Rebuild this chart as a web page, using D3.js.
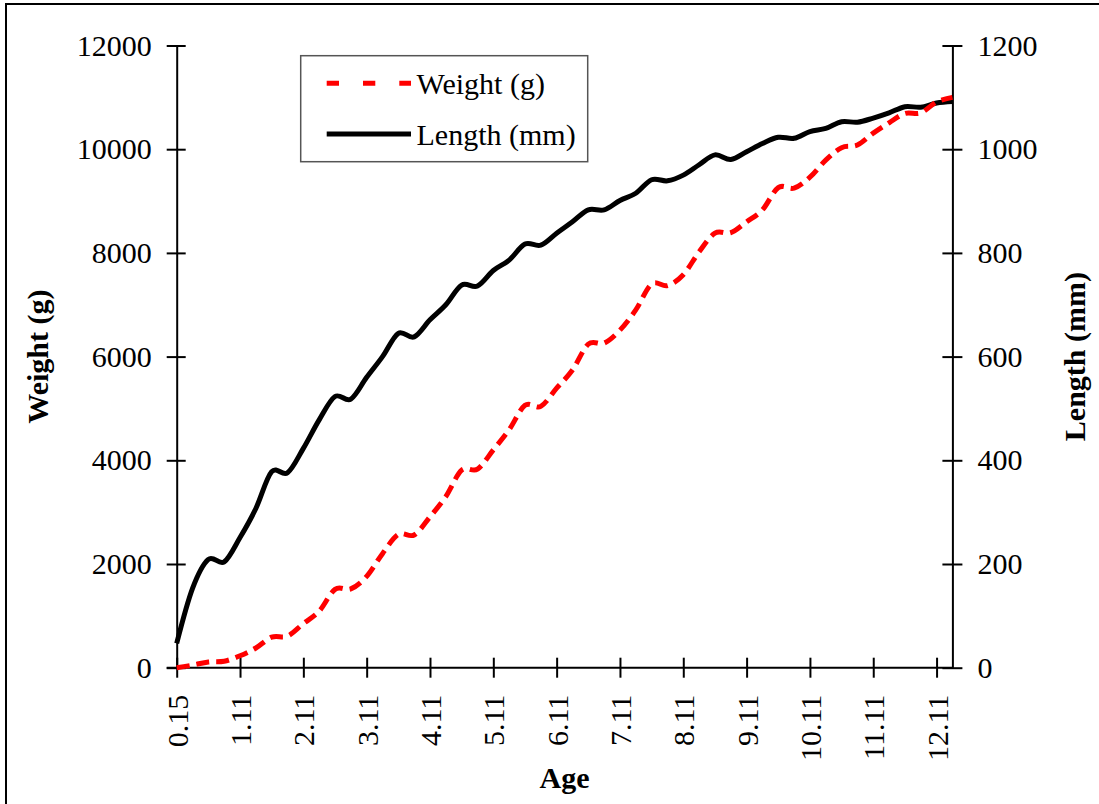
<!DOCTYPE html>
<html>
<head>
<meta charset="utf-8">
<script src="https://cdn.jsdelivr.net/npm/d3@7"></script>
<style>
  html, body { margin: 0; padding: 0; background: #fff; }
  svg { display: block; }
  svg text { font-family: "Liberation Serif", "Times New Roman", Times, serif; }
</style>
</head>
<body>
<svg id="chart" width="1099" height="804"></svg>
<script>
// Age categories (quarterly sampling); every fourth one is labelled
const ages = [
  "0.15","0.36","0.61","0.86","1.11","1.36","1.61","1.86","2.11","2.36",
  "2.61","2.86","3.11","3.36","3.61","3.86","4.11","4.36","4.61","4.86",
  "5.11","5.36","5.61","5.86","6.11","6.36","6.61","6.86","7.11","7.36",
  "7.61","7.86","8.11","8.36","8.61","8.86","9.11","9.36","9.61","9.86",
  "10.11","10.36","10.61","10.86","11.11","11.36","11.61","11.86","12.11","12.36"
];

// Weight in grams
const weight = [
  0, 50, 110, 125, 230, 380, 590, 610, 850, 1090,
  1510, 1520, 1760, 2200, 2570, 2560, 2910, 3300, 3810, 3830,
  4200, 4590, 5060, 5040, 5390, 5740, 6240, 6260, 6510, 6900,
  7400, 7370, 7580, 8020, 8380, 8390, 8600, 8830, 9260, 9250,
  9460, 9790, 10030, 10080, 10310, 10510, 10690, 10700, 10910, 11000
];

// Length in millimetres
const lengthMm = [
  47, 153, 209, 204, 251, 307, 378, 376, 423, 478,
  523, 518, 560, 600, 645, 638, 671, 700, 738, 736,
  766, 786, 817, 815, 838, 860, 883, 883, 901, 915,
  941, 939, 950, 970, 989, 980, 995, 1011, 1023, 1021,
  1034, 1040, 1053, 1052, 1060, 1070, 1082, 1081, 1089, 1092
];

const weightTicks = [0, 2000, 4000, 6000, 8000, 10000, 12000];
const lengthTicks = [0, 200, 400, 600, 800, 1000, 1200];
const legendLabels = ["Weight (g)", "Length (mm)"];

const svg = d3.select("#chart");
const plotL = 176.7, plotR = 952.4, plotT = 45.5, plotB = 667.7;
const FONT = 30;
const SERIF = "Liberation Serif";

// outer frame
svg.append("rect")
  .attr("x", 6).attr("y", 4).attr("width", 1120).attr("height", 830)
  .attr("fill", "none").attr("stroke", "#000").attr("stroke-width", 2);

const x = d3.scalePoint().domain(ages).range([plotL, plotR]);
const yW = d3.scaleLinear().domain([0, 12000]).range([plotB, plotT]);
const yL = d3.scaleLinear().domain([0, 1200]).range([plotB, plotT]);

function styleAxis(g) {
  g.attr("font-family", SERIF).attr("font-size", FONT);
  g.select(".domain").attr("stroke", "#000").attr("stroke-width", 2);
  g.selectAll(".tick line").attr("stroke", "#000").attr("stroke-width", 2);
  g.selectAll(".tick text").attr("fill", "#000")
    .attr("font-family", SERIF).attr("font-size", FONT);
}

// left axis (weight)
const gL = svg.append("g").attr("transform", `translate(${plotL},0)`)
  .call(d3.axisLeft(yW).tickValues(weightTicks).tickSizeInner(10).tickSizeOuter(0).tickPadding(15).tickFormat(d3.format("d")))
  .call(styleAxis);
gL.selectAll(".tick line").attr("x1", 9);

// right axis (length)
const gR = svg.append("g").attr("transform", `translate(${plotR},0)`)
  .call(d3.axisRight(yL).tickValues(lengthTicks).tickSizeInner(10).tickSizeOuter(0).tickPadding(15).tickFormat(d3.format("d")))
  .call(styleAxis);
gR.selectAll(".tick line").attr("x1", -10);

// bottom axis (age)
const gB = svg.append("g").attr("transform", `translate(0,${plotB})`)
  .call(d3.axisBottom(x).tickValues(ages.filter((d, i) => i % 4 === 0)).tickSizeInner(10).tickSizeOuter(0))
  .call(styleAxis);
gB.selectAll(".tick line").attr("y1", -10);
gB.select(".domain").attr("d", `M${plotL - 10},0H${plotR}`);
gB.selectAll(".tick text")
  .attr("transform", "rotate(-90)")
  .attr("text-anchor", "end")
  .attr("x", -27).attr("y", 0).attr("dy", "0.35em");

// series
const curve = d3.curveCardinal.tension(0);
const lineW = d3.line().x((d, i) => x(ages[i])).y(d => yW(d)).curve(curve);
const lineL = d3.line().x((d, i) => x(ages[i])).y(d => yL(d)).curve(curve);

svg.append("path").datum(lengthMm)
  .attr("d", lineL).attr("fill", "none")
  .attr("stroke", "#000").attr("stroke-width", 5).attr("stroke-linejoin", "round");

svg.append("path").datum(weight)
  .attr("d", lineW).attr("fill", "none")
  .attr("stroke", "#ff0000").attr("stroke-width", 5)
  .attr("stroke-dasharray", "13,7");

// axis titles
function title(sel) {
  return sel.attr("text-anchor", "middle")
    .attr("font-family", SERIF).attr("font-size", FONT).attr("font-weight", "bold");
}
svg.append("text")
  .attr("transform", `translate(48,${(plotT + plotB) / 2}) rotate(-90)`)
  .call(title).text("Weight (g)");

svg.append("text")
  .attr("transform", `translate(1085,${(plotT + plotB) / 2}) rotate(-90)`)
  .call(title).text("Length (mm)");

svg.append("text")
  .attr("x", (plotL + plotR) / 2).attr("y", 788)
  .call(title).text("Age");

// legend
const lg = svg.append("g");
lg.append("rect")
  .attr("x", 300.7).attr("y", 55.7).attr("width", 287).attr("height", 106)
  .attr("fill", "#fff").attr("stroke", "#555").attr("stroke-width", 1.5);
lg.append("line")
  .attr("x1", 326.7).attr("x2", 411).attr("y1", 83.3).attr("y2", 83.3)
  .attr("stroke", "#ff0000").attr("stroke-width", 5).attr("stroke-dasharray", "12.3,24");
lg.append("line")
  .attr("x1", 326.7).attr("x2", 411).attr("y1", 134).attr("y2", 134)
  .attr("stroke", "#000").attr("stroke-width", 5);
lg.selectAll("text.lbl").data(legendLabels).join("text")
  .attr("class", "lbl")
  .attr("x", 416.5).attr("y", (d, i) => [83.3, 134][i]).attr("dy", "0.35em")
  .attr("font-family", SERIF).attr("font-size", FONT)
  .text(d => d);
</script>
</body>
</html>
